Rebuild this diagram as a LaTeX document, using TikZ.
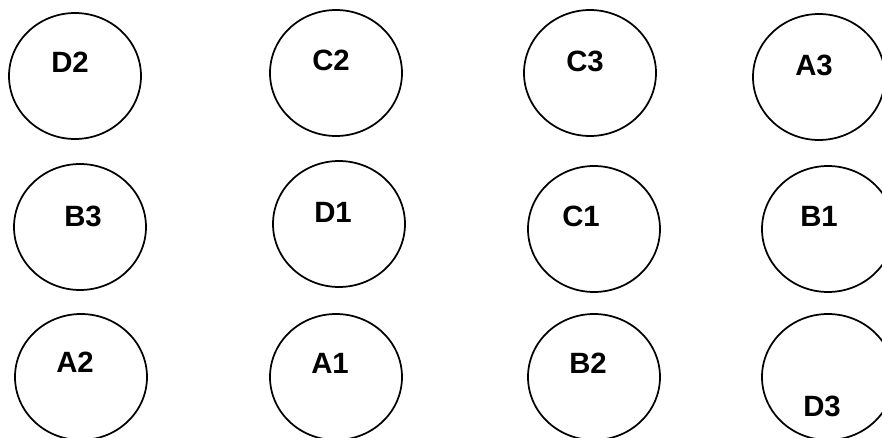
\documentclass[tikz,border=0pt]{standalone}
\usepackage{fontspec}
\setmainfont{Liberation Sans}
\usepackage{tikz}
\usetikzlibrary{shapes.geometric}

\begin{document}
\begin{tikzpicture}[
  x=0.75pt, y=-0.75pt,
  seat/.style={ellipse, draw, line width=1.3pt, minimum width=99pt, minimum height=94.5pt, inner sep=0pt},
  tag/.style={inner sep=0pt, font=\fontsize{22}{24}\selectfont\bfseries}
]
\useasboundingbox (0,0) rectangle (882,438);

% top row
\node[seat] (d2) at (75,76) {};
\node[tag] (d2t) at (70,62) {D2};
\node[seat] (c2) at (336,73) {};
\node[tag] (c2t) at (331,60) {C2};
\node[seat] (c3) at (590,73) {};
\node[tag] (c3t) at (585,61) {C3};
\node[seat] (a3) at (819,77) {};
\node[tag] (a3t) at (814,65) {A3};

% middle row
\node[seat] (b3) at (80,227) {};
\node[tag] (b3t) at (83,216) {B3};
\node[seat] (d1) at (339,224) {};
\node[tag] (d1t) at (333,212) {D1};
\node[seat] (c1) at (594,229) {};
\node[tag] (c1t) at (581,216) {C1};
\node[seat] (b1) at (828,229) {};
\node[tag] (b1t) at (819,216) {B1};

% bottom row
\node[seat] (a2) at (81,377) {};
\node[tag] (a2t) at (75,362) {A2};
\node[seat] (a1) at (336,377) {};
\node[tag] (a1t) at (330,363) {A1};
\node[seat] (b2) at (594,377) {};
\node[tag] (b2t) at (588,363) {B2};
\node[seat] (d3) at (828,377) {};
\node[tag] (d3t) at (822,406) {D3};
\end{tikzpicture}
\end{document}
